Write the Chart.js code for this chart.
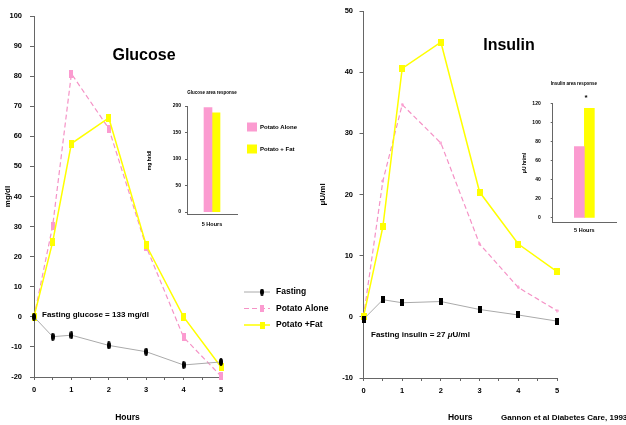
<!DOCTYPE html>
<html>
<head>
<meta charset="utf-8">
<script src="https://cdn.jsdelivr.net/npm/chart.js@4.4.1/dist/chart.umd.min.js"></script>
<style>
  body { margin: 0; background: #fff; width: 626px; height: 425px; overflow: hidden; position: relative;
         font-family: "Liberation Sans", Arial, sans-serif; font-weight: bold; }
  canvas { position: absolute; }
  .t { position: absolute; white-space: nowrap; color: #000; transform: translateY(-50%); }
  .c { transform: translate(-50%, -50%); }
</style>
</head>
<body>
<canvas id="glucose" width="340" height="425" style="left:0;top:0"></canvas>
<canvas id="insulin" width="311" height="425" style="left:315px;top:0"></canvas>
<canvas id="glucoseArea" width="200" height="150" style="left:140px;top:80px"></canvas>
<canvas id="insulinArea" width="121" height="165" style="left:505px;top:75px"></canvas>

<div class="t c" style="left:144px;top:55px;font-size:16px">Glucose</div>
<div class="t c" style="left:509px;top:45px;font-size:16px">Insulin</div>
<div class="t" style="left:42px;top:314px;font-size:8px">Fasting glucose = 133 mg/dl</div>
<div class="t" style="left:371px;top:334px;font-size:8px">Fasting insulin = 27 <i>μ</i>U/ml</div>
<div class="t" style="left:501px;top:417px;font-size:8px">Gannon et al Diabetes Care, 1993</div>
<div class="t c" style="left:212px;top:92px;font-size:4.5px">Glucose area response</div>
<div class="t c" style="left:574px;top:83px;font-size:4.5px">Insulin area response</div>
<div class="t c" style="left:586px;top:97px;font-size:8px">*</div>

<script>
// time points (hours)
const hours = [0, 0.5, 1, 2, 3, 4, 5];
const hourTicks = [0, 0.5, 1, 1.5, 2, 2.5, 3, 3.5, 4, 4.5, 5];

// change from fasting, glucose mg/dl
const glucoseFasting = [0, -6.6, -6.1, -9.5, -11.6, -16, -15];
const glucosePotato = [0, 30.3, 80.8, 62.6, 23.3, -6.8, -19.7];
const glucosePotatoFat = [0, 24.9, 57.6, 66.1, 23.8, 0, -16.7];
const glucoseTicks = [-20, -10, 0, 10, 20, 30, 40, 50, 60, 70, 80, 90, 100];

// change from fasting, insulin uU/ml
const insulinFasting = [-0.4, 2.8, 2.3, 2.5, 1.2, 0.3, -0.7];
const insulinPotato = [0, 22.2, 34.7, 28.4, 11.9, 4.8, 1.0];
const insulinPotatoFat = [0, 14.7, 40.6, 44.9, 20.4, 11.9, 7.4];
const insulinTicks = [-10, 0, 10, 20, 30, 40, 50];

const lineNames = ['Fasting', 'Potato Alone', 'Potato +Fat'];

// area responses (potato alone, potato + fat)
const areaCategories = ['5 Hours'];
const barNames = ['Potato Alone', 'Potato + Fat'];
const glucoseArea = [197, 187];
const insulinArea = [74.7, 114.8];
const glucoseAreaTicks = [0, 50, 100, 150, 200];
const insulinAreaTicks = [0, 20, 40, 60, 80, 100, 120];

const PINK = '#fb9bd0';
const PINK_LINE = '#f592c6';
const YELLOW = '#ffff00';
const GRAY = '#aaaaaa';
const AXIS = '#666666';

Chart.defaults.font.family = '"Liberation Sans", Arial, sans-serif';
Chart.defaults.font.weight = 'bold';
Chart.defaults.color = '#000';

function marker(w, h, color, shape) {
  const c = document.createElement('canvas');
  c.width = w; c.height = h;
  const g = c.getContext('2d');
  g.fillStyle = color;
  g.beginPath();
  if (shape === 'ellipse') {
    g.ellipse(w / 2, h / 2, w / 2, h / 2, 0, 0, Math.PI * 2);
  } else if (shape === 'diamond') {
    g.moveTo(w / 2, 0); g.lineTo(w, h / 2); g.lineTo(w / 2, h); g.lineTo(0, h / 2);
  } else {
    g.rect(0, 0, w, h);
  }
  g.fill();
  return c;
}

function points(ys) {
  return hours.map((x, i) => ({ x: x, y: ys[i] }));
}

function fixTicks(list) {
  return s => { s.ticks = list.map(v => ({ value: v })); };
}

// draws a legend at a fixed place
function floatLegend(opt) {
  return {
    id: 'floatLegend',
    afterDraw(chart) {
      const ctx = chart.ctx;
      ctx.save();
      ctx.font = 'bold ' + opt.size + 'px "Liberation Sans", Arial, sans-serif';
      ctx.textBaseline = 'middle';
      ctx.fillStyle = '#000';
      chart.data.datasets.forEach((ds, i) => {
        const y = opt.y + i * opt.gap;
        if (opt.box) {
          ctx.fillStyle = ds.backgroundColor;
          ctx.fillRect(opt.x, y - 4.5, 10, 9);
          ctx.fillStyle = '#000';
          ctx.fillText(ds.label, opt.x + 13, y);
        } else {
          ctx.strokeStyle = ds.borderColor;
          ctx.lineWidth = ds.borderWidth;
          ctx.setLineDash(ds.borderDash || []);
          ctx.beginPath();
          ctx.moveTo(opt.x, y);
          ctx.lineTo(opt.x + 26, y);
          ctx.stroke();
          ctx.setLineDash([]);
          const m = ds.legendMarker || ds.pointStyle;
          ctx.drawImage(m, opt.x + 18 - m.width / 2, y - m.height / 2);
          ctx.fillStyle = '#000';
          ctx.fillText(ds.label, opt.x + 32, y);
        }
      });
      ctx.restore();
    }
  };
}

function lineScales(yMin, yMax, yTicks, yTitle, yWidth, xHeight, labelPad) {
  return {
    x: {
      type: 'linear', min: 0, max: 5,
      afterBuildTicks: fixTicks(hourTicks),
      afterFit: s => { s.height = xHeight; },
      ticks: {
        font: { size: 7.5 }, padding: 5, maxRotation: 0, autoSkip: false,
        callback: v => Number.isInteger(v) ? String(v) : ''
      },
      grid: { drawOnChartArea: false, tickLength: 3, color: AXIS },
      border: { color: AXIS },
      title: { display: true, text: 'Hours', font: { size: 8.5 }, padding: { top: 0, bottom: 2 } }
    },
    y: {
      min: yMin, max: yMax,
      afterBuildTicks: fixTicks(yTicks),
      afterFit: s => { s.width = yWidth; },
      ticks: { font: { size: 7.5 }, padding: labelPad },
      grid: { drawOnChartArea: false, tickLength: 4, color: AXIS },
      border: { color: AXIS },
      title: { display: true, text: yTitle, font: { size: 8 }, padding: { top: 3, bottom: 0 } }
    }
  };
}

function lineDatasets(f, p, pf, mk) {
  return [
    { label: lineNames[0], data: points(f), borderColor: GRAY, borderWidth: 1, pointStyle: mk[0],
      legendMarker: mk[3], order: 0, clip: false },
    { label: lineNames[1], data: points(p), borderColor: PINK_LINE, borderWidth: 1.2, borderDash: [5, 3],
      pointStyle: mk[1], legendMarker: mk[4], order: 2, clip: false },
    { label: lineNames[2], data: points(pf), borderColor: YELLOW, borderWidth: 1.5, pointStyle: mk[2],
      legendMarker: mk[5], order: 1, clip: false }
  ];
}

const common = {
  responsive: false, animation: false, events: [],
  plugins: { legend: { display: false }, tooltip: { enabled: false } }
};

const legendMarks = [marker(4, 7, '#000', 'ellipse'), marker(4, 7, PINK, 'rect'), marker(5, 7, YELLOW, 'rect')];

new Chart(document.getElementById('glucose'), {
  type: 'line',
  data: {
    datasets: lineDatasets(glucoseFasting, glucosePotato, glucosePotatoFat, [
      marker(4, 8, '#000', 'ellipse'), marker(4, 8, PINK, 'rect'), marker(5, 8, YELLOW, 'rect'),
      ...legendMarks
    ])
  },
  options: Object.assign({}, common, {
    layout: { padding: { top: 16, right: 119, left: 0, bottom: 0 } },
    scales: lineScales(-20, 100, glucoseTicks, 'mg/dl', 34, 48, 8)
  }),
  plugins: [floatLegend({ x: 244, y: 292, gap: 16.5, size: 8.5 })]
});

new Chart(document.getElementById('insulin'), {
  type: 'line',
  data: {
    datasets: lineDatasets(insulinFasting, insulinPotato, insulinPotatoFat, [
      marker(4, 7, '#000', 'rect'), marker(3, 4, PINK, 'diamond'), marker(6, 7, YELLOW, 'rect'),
      ...legendMarks
    ])
  },
  options: Object.assign({}, common, {
    layout: { padding: { top: 11, right: 69, left: 0, bottom: 0 } },
    scales: lineScales(-10, 50, insulinTicks, 'μU/ml', 48.5, 47, 6.5)
  })
});

function barScales(yMax, yTicks, yTitle, yWidth, xHeight, labelPad, titlePad, xPad) {
  return {
    x: {
      afterFit: s => { s.height = xHeight; },
      ticks: { font: { size: 5.5 }, padding: xPad },
      grid: { drawOnChartArea: false, drawTicks: false },
      border: { color: AXIS }
    },
    y: {
      min: -5, max: yMax,
      afterBuildTicks: fixTicks(yTicks),
      afterFit: s => { s.width = yWidth; },
      ticks: { font: { size: 5 }, padding: labelPad },
      grid: { drawOnChartArea: false, tickLength: 2, color: AXIS },
      border: { color: AXIS },
      title: { display: true, text: yTitle, font: { size: 5 }, padding: { top: titlePad, bottom: 0 } }
    }
  };
}

new Chart(document.getElementById('glucoseArea'), {
  type: 'bar',
  data: {
    labels: areaCategories,
    datasets: [
      { label: barNames[0], data: [glucoseArea[0]], backgroundColor: PINK, barThickness: 8 },
      { label: barNames[1], data: [glucoseArea[1]], backgroundColor: YELLOW, barThickness: 8 }
    ]
  },
  options: Object.assign({}, common, {
    layout: { padding: { top: 26, right: 103, left: 0, bottom: 0 } },
    scales: barScales(200, glucoseAreaTicks, 'mg hr/dl', 47, 15.3, 4, 7, 6)
  }),
  plugins: [floatLegend({ x: 107, y: 47, gap: 22, size: 6, box: true })]
});

new Chart(document.getElementById('insulinArea'), {
  type: 'bar',
  data: {
    labels: areaCategories,
    datasets: [
      { label: barNames[0], data: [insulinArea[0]], backgroundColor: PINK, barThickness: 10 },
      { label: barNames[1], data: [insulinArea[1]], backgroundColor: YELLOW, barThickness: 10 }
    ]
  },
  options: Object.assign({}, common, {
    layout: { padding: { top: 28.3, right: 10, left: 0, bottom: 0 } },
    scales: barScales(120, insulinAreaTicks, 'μU hr/ml', 47.7, 17.3, 10, 17, 4)
  })
});
</script>
</body>
</html>
